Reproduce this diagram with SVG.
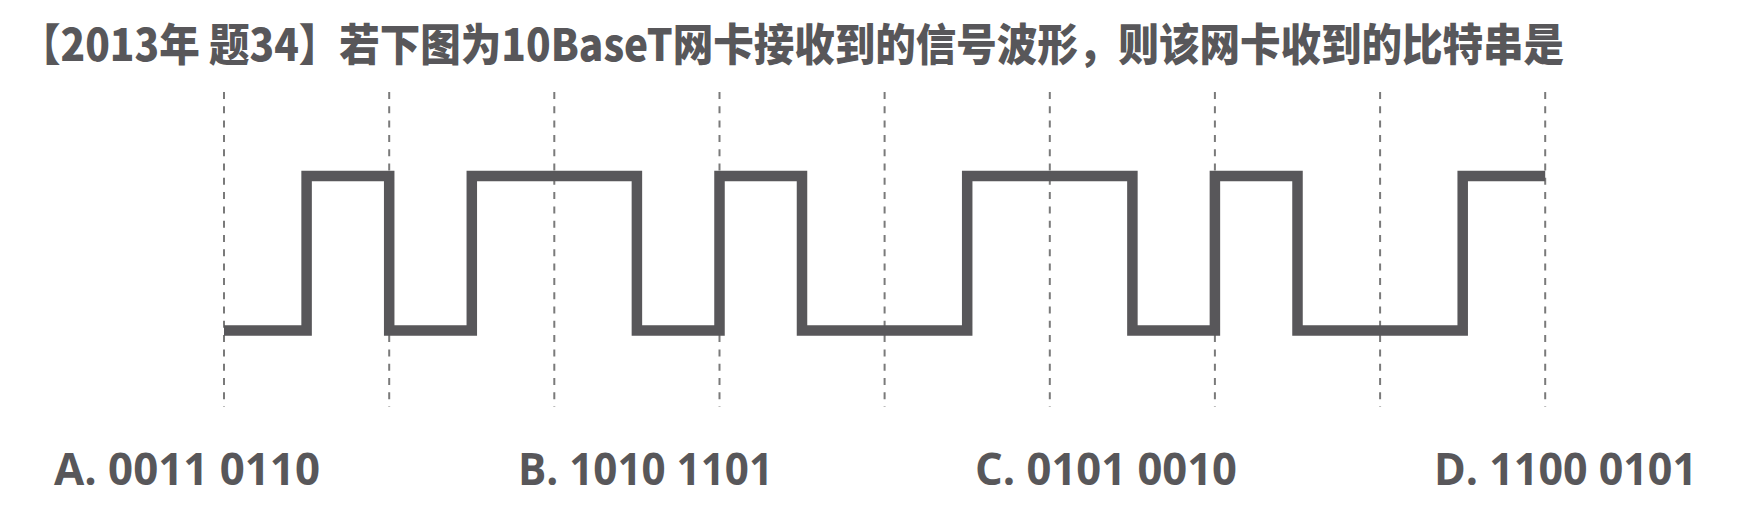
<svg xmlns="http://www.w3.org/2000/svg" width="1739" height="523" viewBox="0 0 1739 523">
<style>
.title{font-family:"Noto Sans CJK SC","Noto Sans",sans-serif;font-weight:900;font-size:44px;fill:#58575a}
.opt{font-family:"Open Sans","Liberation Sans",sans-serif;font-weight:700;font-size:45px;fill:#58575a}
.grid{stroke:#7a7a7a;stroke-width:2;stroke-dasharray:7 7.3;fill:none}
.wave{stroke:#58575a;stroke-width:10.5;fill:none;stroke-linejoin:miter;stroke-linecap:butt}
</style>
<rect width="1739" height="523" fill="#ffffff"/>
<g id="title">
<text class="title" x="20" y="61" textLength="1544" lengthAdjust="spacingAndGlyphs">【2013年 题34】若下图为10BaseT网卡接收到的信号波形，则该网卡收到的比特串是</text>
</g>
<g id="grid">
<line class="grid" x1="224" y1="92" x2="224" y2="407"/>
<line class="grid" x1="389.2" y1="92" x2="389.2" y2="407"/>
<line class="grid" x1="554.3" y1="92" x2="554.3" y2="407"/>
<line class="grid" x1="719.5" y1="92" x2="719.5" y2="407"/>
<line class="grid" x1="884.6" y1="92" x2="884.6" y2="407"/>
<line class="grid" x1="1049.8" y1="92" x2="1049.8" y2="407"/>
<line class="grid" x1="1214.9" y1="92" x2="1214.9" y2="407"/>
<line class="grid" x1="1380.1" y1="92" x2="1380.1" y2="407"/>
<line class="grid" x1="1545.2" y1="92" x2="1545.2" y2="407"/>
</g>
<g id="waveform">
<polyline class="wave" points="224,330.5 306.6,330.5 306.6,176 389.2,176 389.2,330.5 471.8,330.5 471.8,176 636.9,176 636.9,330.5 719.5,330.5 719.5,176 802,176 802,330.5 967.2,330.5 967.2,176 1132.4,176 1132.4,330.5 1214.9,330.5 1214.9,176 1297.5,176 1297.5,330.5 1462.7,330.5 1462.7,176 1545.2,176"/>
</g>
<g id="options">
<text class="opt" x="54" y="485" textLength="266" lengthAdjust="spacingAndGlyphs">A. 0011 0110</text>
<text class="opt" x="518" y="485" textLength="255" lengthAdjust="spacingAndGlyphs">B. 1010 1101</text>
<text class="opt" x="975" y="485" textLength="262" lengthAdjust="spacingAndGlyphs">C. 0101 0010</text>
<text class="opt" x="1434" y="485" textLength="263" lengthAdjust="spacingAndGlyphs">D. 1100 0101</text>
</g>
</svg>
